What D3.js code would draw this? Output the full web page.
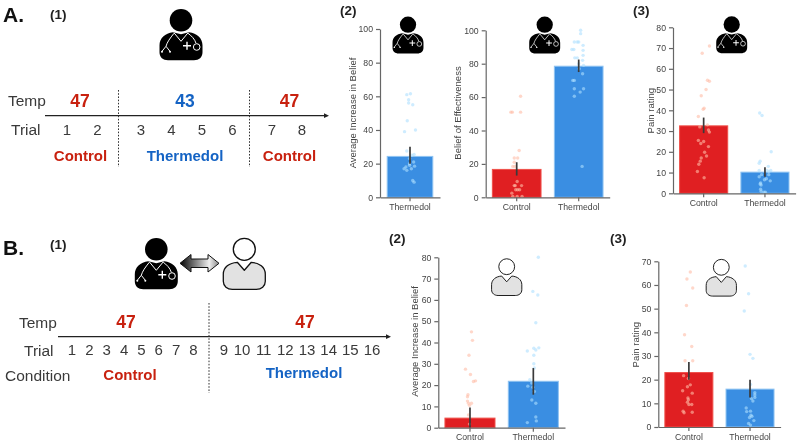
<!DOCTYPE html>
<html><head><meta charset="utf-8">
<script src="https://cdn.jsdelivr.net/npm/d3@7/dist/d3.min.js"></script>
<style>
html,body{margin:0;padding:0;background:#fff}
svg{display:block;filter:blur(0.45px)}
text{font-family:"Liberation Sans",Arial,sans-serif}
</style></head><body>
<svg id="c" width="800" height="444"></svg>
<script>
// ---- data: [jitter as % of bar width, value] ----
const catsBoth = ["Control","Thermedol"];
const catsOne = ["Thermedol"];
const a2Means=[24.3], a2Err=[[20,30]];
const a2Therm=[[-7,61],[1,61.5],[-3,58],[-3,56],[6,55],[-6,45.5],[12,40],[-12,39],[-7,27.5],[4,25],[9,25.5],[-1,23],[8,21],[-1,20],[-1,19],[10,18.5],[-9,18],[3,17],[-13,17],[-7,16],[6,10],[9,9]];
const a2bMeans=[16.7,78.5], a2bErr=[[13,21],[75,82.5]];
const a2bCtrl=[[8,60.5],[-12,51],[-9,51],[8,51],[5,28],[-5,23.5],[2,23.5],[-5,21],[-8,18.5],[-4,18.5],[1,9.5],[10,7],[-5,7],[-3,7],[-2,4.5],[2,4.5],[6,4.5],[-10,2.5],[-8,0.5],[1,0.5],[11,0.5]];
const a2bTherm=[[4,100],[4,98],[-9,93],[-3,93],[0,93],[9,91],[-14,88.5],[-10,88.5],[9,88],[9,85],[-8,83.5],[-3,83.5],[8,82],[0,80],[10,79],[1,77],[8,74],[-12,70],[-9,70],[-9,65],[3,63],[10,65],[-9,60.5],[7,18.5]];
const a3Means=[32.5,10.2], a3Err=[[29,36.5],[8,12.5]];
const a3Ctrl=[[12,71],[-3,67.5],[8,54.5],[12,54],[5,50],[-5,47],[1,41],[-1,40.5],[-11,37],[8,33],[-8,32],[10,30.5],[12,29.5],[-11,25.5],[0,25],[-6,24],[10,22.5],[2,19.8],[6,18],[-5,17],[-7,15.5],[-10,14],[-13,10.5],[1,7.5]];
const a3Therm=[[-11,38.7],[-6,37.5],[13,20],[-10,15.5],[-12,14.5],[7,13],[-12,11],[4,11],[12,11],[8,10.5],[8,9],[-7,9],[-12,8],[3,7],[-1,6.5],[11,6],[-9,5],[-10,4.5],[-8,4],[-9,2],[-8,1],[1,0.5],[-2,0.5]];
const b2Means=[4.5,21.8], b2Err=[[0,9.5],[15.5,28]];
const b2Ctrl=[[3,45],[5,41],[-2,34],[-9,27.5],[1,25],[11,22],[7,21.7],[-4,15.5],[-5,14.5],[-5,12.5],[3,11.5],[-3,11.5],[-1,10.5],[-3,6],[-1,1.7]];
const b2Therm=[[10,80],[-1,64],[9,62.3],[5,49.3],[11,37.5],[1,37.3],[5,36.5],[-12,36],[1,34],[1,30],[2,28],[-7,22.5],[-3,21],[-11,19.5],[-1,19],[2,17],[-3,13],[5,11.5],[5,5],[6,3.2],[-12,2.4]];
const b3Means=[23,16], b3Err=[[20,27.5],[12.5,20]];
const b3Ctrl=[[3,65.5],[-4,62.5],[8,58.7],[-5,51.3],[-9,39],[6,34],[-8,28],[8,28],[-11,21.7],[-1,20.5],[3,17.8],[-3,17],[-13,15.3],[7,14.3],[-2,12.3],[-1,11.5],[-3,10.5],[0,9.5],[6,9.5],[-12,6.7],[-10,6],[7,6.2]];
const b3Therm=[[-10,68],[-3,56.3],[-12,49],[0,30.7],[6,29],[1,18],[10,14.5],[10,13.5],[10,12.5],[3,12],[6,11],[-8,8],[1,6.7],[-7,6.5],[2,5],[4,4.5],[-1,4],[8,2.7],[-3,1.5],[1,0.8]];
const trialsA=[1,2,3,4,5,6,7,8];
const trialsB=[1,2,3,4,5,6,7,8,9,10,11,12,13,14,15,16];

const RED="#c8210f", BLUE="#1463c4", DARK="#3a3a3a";
const fill={Control:"#e01f22",Thermedol:"#3a8ee2"};
const edge={Control:"#f0504a",Thermedol:"#8fc4f2"};
const dot={Control:"#ffbda6",Thermedol:"#aee0ff"};
const svg=d3.select("#c");

function label(x,y,t,o={}){
  return svg.append("text").attr("x",x).attr("y",y).text(t)
    .attr("text-anchor",o.a||"middle").attr("dominant-baseline","central")
    .attr("font-size",o.s||15).attr("font-weight",o.w||"normal").attr("fill",o.c||DARK);
}
function vdash(x,y0,y1){
  svg.append("line").attr("x1",x).attr("x2",x).attr("y1",y0).attr("y2",y1)
    .attr("stroke","#333").attr("stroke-width",1).attr("stroke-dasharray","1.6 1.6");
}
function timeArrow(x0,x1,y){
  svg.append("line").attr("x1",x0).attr("x2",x1-3).attr("y1",y).attr("y2",y).attr("stroke","#222").attr("stroke-width",1.2);
  svg.append("path").attr("d",`M${x1},${y}L${x1-5},${y-2.4}L${x1-5},${y+2.4}Z`).attr("fill","#222");
}
function doctor(cx,cy,k){
  const g=svg.append("g").attr("transform",`translate(${cx},${cy}) scale(${k})`);
  g.append("circle").attr("r",11.3).attr("fill","#000");
  g.append("path").attr("fill","#000").attr("d","M-8,12 C-16,13 -21.5,18 -21.5,25 L-21.5,32 C-21.5,37 -18,40 -13,40 L13,40 C18,40 21.5,37 21.5,32 L21.5,25 C21.5,18 16,13 8,12 L0,14 Z");
  const w=g.append("g").attr("fill","none").attr("stroke","#fff").attr("stroke-width",1);
  w.append("path").attr("d","M-7,12.5 L0,21 L7,12.5");
  w.append("path").attr("d","M-7,13 C-11,18 -14,22 -15,26 L-19,31 M-15,26 L-11,31");
  w.append("path").attr("d","M7,13 C10,15 14,19 15,23");
  w.append("circle").attr("cx",15.7).attr("cy",26.7).attr("r",3.3);
  w.append("path").attr("stroke-width",1.4).attr("d","M2,25.5 H10 M6,21.5 V29.5");
  g.append("circle").attr("cx",-19).attr("cy",31.5).attr("r",1).attr("fill","#fff");
  g.append("circle").attr("cx",-11).attr("cy",31.5).attr("r",1).attr("fill","#fff");
}
function patient(cx,cy,k){
  const g=svg.append("g").attr("transform",`translate(${cx},${cy}) scale(${k})`)
    .attr("stroke","#111").attr("stroke-width",1.3).attr("stroke-linejoin","round");
  g.append("circle").attr("r",11).attr("fill","#fff");
  g.append("path").attr("fill","#e2e2e2").attr("d","M-7,13 C-15,13.5 -21,18 -21,25 L-21,32 C-21,37 -17,40 -12,40 L12,40 C17,40 21,37 21,32 L21,25 C21,18 15,13.5 7,13 L0,21 Z");
}

// ---- schematic A ----
label(3,14,"A.",{a:"start",s:21,w:"bold",c:"#111"});
label(50,14,"(1)",{a:"start",s:13.5,w:"bold",c:"#222"});
doctor(181,20.3,1);
timeArrow(45,329,115.7);
vdash(118.5,90,167); vdash(249.5,90,167);
label(8,100,"Temp",{a:"start",s:15.5});
label(11,129,"Trial",{a:"start",s:15.5});
[["47",80,RED],["43",185,BLUE],["47",289.5,RED]].forEach(d=>label(d[1],100.5,d[0],{s:17.5,w:"bold",c:d[2]}));
const xa=d3.scaleLinear().domain([1,2,3,6,7,8]).range([67,97.5,141,232.5,272,302]);
trialsA.forEach(t=>label(xa(t),129,t,{s:15}));
[["Control",80.5,RED],["Thermedol",185,BLUE],["Control",289.5,RED]].forEach(d=>label(d[1],155.5,d[0],{s:15,w:"bold",c:d[2]}));

// ---- schematic B ----
label(3,247,"B.",{a:"start",s:21,w:"bold",c:"#111"});
label(50,244,"(1)",{a:"start",s:13.5,w:"bold",c:"#222"});
doctor(156.3,249.3,1);
patient(244.3,249.3,1);
const gr=svg.append("defs").append("linearGradient").attr("id","ag");
gr.append("stop").attr("offset","0").attr("stop-color","#000");
gr.append("stop").attr("offset","0.75").attr("stop-color","#eee");
gr.append("stop").attr("offset","1").attr("stop-color","#888");
svg.append("path").attr("fill","url(#ag)").attr("stroke","#111").attr("stroke-width",1)
  .attr("d","M180,263.3 L191,254.5 L191,259 L208,259 L208,254.5 L219,263.3 L208,272 L208,267.5 L191,267.5 L191,272 Z");
timeArrow(58,391,336.7);
vdash(209,303,393);
label(19,322,"Temp",{a:"start",s:15.5});
label(24,350,"Trial",{a:"start",s:15.5});
label(5,375,"Condition",{a:"start",s:15.5});
[[126],[305]].forEach(d=>label(d[0],322,"47",{s:17.5,w:"bold",c:RED}));
const xb=d3.scaleLinear().domain([1,8,9,10,16]).range([72,193.5,224,242,372]);
trialsB.forEach(t=>label(xb(t),349,t,{s:15}));
label(130,374,"Control",{s:15,w:"bold",c:RED});
label(304,372.5,"Thermedol",{s:15,w:"bold",c:BLUE});
label(340,10,"(2)",{a:"start",s:13.5,w:"bold",c:"#222"});
label(633,10,"(3)",{a:"start",s:13.5,w:"bold",c:"#222"});
label(389,238,"(2)",{a:"start",s:13.5,w:"bold",c:"#222"});
label(610,238,"(3)",{a:"start",s:13.5,w:"bold",c:"#222"});

// ---- bar panels ----
function panel(o){
  const x=d3.scaleBand().domain(o.cats).range([o.x0,o.x1]).paddingInner(o.pad).paddingOuter(o.pad/2);
  const y=d3.scaleLinear().domain([0,o.max]).range([o.y0,o.y1]);
  const g=svg.append("g");
  const bw=x.bandwidth();
  o.cats.forEach((c,i)=>{
    g.append("rect").attr("x",x(c)).attr("width",bw).attr("y",y(o.means[i])).attr("height",o.y0-y(o.means[i]))
      .attr("fill",fill[c]).attr("stroke",edge[c]).attr("stroke-width",1);
    const cx=x(c)+bw/2;
    g.selectAll(null).data(o.pts[i]).join("circle")
      .attr("cx",d=>cx+d[0]/100*bw).attr("cy",d=>y(d[1])).attr("r",1.7)
      .attr("fill",dot[c]).attr("opacity",0.6);
    g.append("line").attr("x1",cx).attr("x2",cx).attr("y1",y(o.err[i][0])).attr("y2",y(o.err[i][1]))
      .attr("stroke","#3a3a3a").attr("stroke-width",1.7);
  });
  const ya=g.append("g").attr("transform",`translate(${o.x0},0)`).call(d3.axisLeft(y).tickValues(d3.range(0,o.max+1,o.step)).tickSize(4).tickSizeOuter(0));
  const xa=g.append("g").attr("transform",`translate(0,${o.y0})`).call(d3.axisBottom(x).tickSize(4).tickSizeOuter(0));
  [ya,xa].forEach(a=>{
    a.selectAll("path,line").attr("stroke","#666").attr("stroke-width",1.2);
    a.selectAll("text").attr("font-size",8.7).attr("fill","#444").style("font-family",'"Liberation Sans",Arial,sans-serif');
  });
  xa.selectAll("text").attr("y",6.5);
  g.append("text").attr("transform",`translate(${o.tx},${o.ty}) rotate(-90)`).attr("text-anchor","middle")
    .attr("dominant-baseline","central").attr("font-size",9.5).attr("fill","#444").text(o.title);
}
panel({cats:catsOne,means:a2Means,err:a2Err,pts:[a2Therm],max:100,step:20,x0:380,x1:440,y0:197.3,y1:29,pad:0.24,title:"Average Increase in Belief",tx:352,ty:113});
panel({cats:catsBoth,means:a2bMeans,err:a2bErr,pts:[a2bCtrl,a2bTherm],max:100,step:20,x0:485.7,x1:609.7,y0:197.3,y1:30.3,pad:0.215,title:"Belief of Effectiveness",tx:457.7,ty:113});
panel({cats:catsBoth,means:a3Means,err:a3Err,pts:[a3Ctrl,a3Therm],max:80,step:10,x0:673,x1:795.6,y0:193.3,y1:27.3,pad:0.215,title:"Pain rating",tx:650.7,ty:110.7});
panel({cats:catsBoth,means:b2Means,err:b2Err,pts:[b2Ctrl,b2Therm],max:80,step:10,x0:438.3,x1:565,y0:427.7,y1:257.3,pad:0.21,title:"Average Increase in Belief",tx:414,ty:341.5});
panel({cats:catsBoth,means:b3Means,err:b3Err,pts:[b3Ctrl,b3Therm],max:70,step:10,x0:658.3,x1:780.6,y0:427,y1:261.3,pad:0.215,title:"Pain rating",tx:635,ty:344.7});

doctor(408,24.7,0.72);
doctor(544.7,24.7,0.72);
doctor(731.7,24.5,0.72);
patient(506.7,266.7,0.72);
patient(721.3,267.3,0.72);
</script>
</body></html>
